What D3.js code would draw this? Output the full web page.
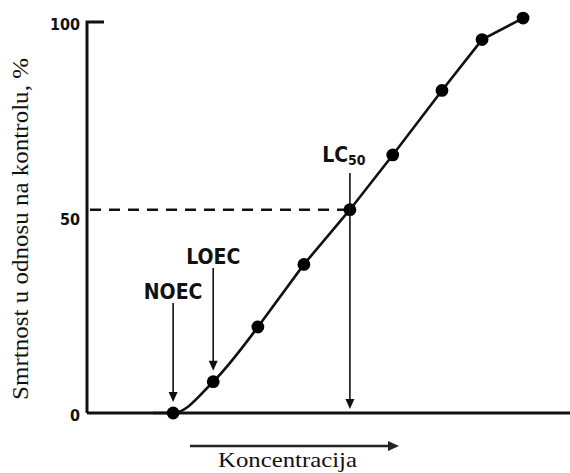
<!DOCTYPE html>
<html><head><meta charset="utf-8">
<script src="https://cdn.jsdelivr.net/npm/d3@7"></script>
<style>body{margin:0;background:#fff}</style>
</head><body><svg id="c" width="570" height="473"></svg>
<script>
const concentration = [1.89, 2.77, 3.75, 4.76, 5.77, 6.71, 7.79, 8.67, 9.57];
const mortality = [0, 8, 22, 38, 52, 66, 82.5, 95.5, 101];
const leadIn = [1.45, 0];
const yTicks = [0, 50, 100];
const yTickLabels = ["0", "50", "100"];
const annotationLabels = ["NOEC", "LOEC", "LC"];
const annotationSubs = ["", "", "50"];
const annotationIndex = [0, 1, 4];
const xTitle = "Koncentracija";
const yTitle = "Smrtnost u odnosu na kontrolu, %";

const svg = d3.select("#c");
svg.append("rect").attr("width", 570).attr("height", 473).attr("fill", "#fff");
const x = d3.scaleLinear().domain([0, 10.6]).range([87, 570]);
const y = d3.scaleLinear().domain([0, 100]).range([413, 22]);
const boldNarrow = "'Liberation Sans Narrow','Arial Narrow','DejaVu Sans Condensed',sans-serif";
const serif = "'Liberation Serif','Times New Roman',serif";

// axes
svg.append("path")
  .attr("d", `M${x(0)},${y(0)} V${y(100)} H${x(0) + 17}`)
  .attr("fill", "none").attr("stroke", "#111").attr("stroke-width", 3);
svg.append("line")
  .attr("x1", x(0)).attr("x2", x.range()[1]).attr("y1", y(0)).attr("y2", y(0))
  .attr("stroke", "#111").attr("stroke-width", 3);

// y tick labels
svg.selectAll("text.tick").data(yTicks).enter().append("text")
  .attr("class", "tick")
  .attr("x", 80).attr("y", d => y(d) + 3)
  .attr("text-anchor", "end").attr("dominant-baseline", "middle")
  .attr("font-family", boldNarrow).attr("font-weight", "bold").attr("font-size", 16)
  .attr("fill", "#111")
  .text((d, i) => yTickLabels[i]);

const pts = concentration.map((c, i) => [c, mortality[i]]);

// dashed LC50 line
const lc = pts[annotationIndex[2]];
svg.append("line")
  .attr("x1", x(0) + 3).attr("x2", x(lc[0])).attr("y1", y(lc[1])).attr("y2", y(lc[1]))
  .attr("stroke", "#111").attr("stroke-width", 2.6).attr("stroke-dasharray", "11,8");

// curve
const line = d3.line().x(d => x(d[0])).y(d => y(d[1]));
svg.append("path")
  .attr("d", line.curve(d3.curveMonotoneX)([leadIn, pts[0], pts[1], pts[2]]))
  .attr("fill", "none").attr("stroke", "#111").attr("stroke-width", 2.6);
svg.append("path")
  .attr("d", d3.line().x(d => x(d[0])).y(d => y(d[1]))(pts.slice(2)))
  .attr("fill", "none").attr("stroke", "#111").attr("stroke-width", 2.6);

// dots
svg.selectAll("circle").data(pts).enter().append("circle")
  .attr("cx", d => x(d[0])).attr("cy", d => y(d[1])).attr("r", 6.4).attr("fill", "#000");

// arrows
function arrow(px, y1, y2) {
  svg.append("line").attr("x1", px).attr("x2", px).attr("y1", y1).attr("y2", y2 - 8)
    .attr("stroke", "#111").attr("stroke-width", 1.6);
  svg.append("path").attr("d", `M${px - 4.5},${y2 - 10} L${px + 4.5},${y2 - 10} L${px},${y2} Z`)
    .attr("fill", "#111");
}
const labelTop = [283, 248, 146];
annotationIndex.forEach((idx, i) => {
  const p = pts[idx];
  const px = x(p[0]);
  const t = svg.append("text")
    .attr("x", px + (i === 2 ? -6 : 0)).attr("y", labelTop[i] + 15.5)
    .attr("text-anchor", "middle")
    .attr("font-family", boldNarrow).attr("font-weight", "bold").attr("font-size", 21)
    .attr("fill", "#111");
  t.append("tspan").text(annotationLabels[i]);
  if (annotationSubs[i]) t.append("tspan").attr("font-size", 14).attr("dy", 3).text(annotationSubs[i]);
  if (i < 2) arrow(px, labelTop[i] + 20, y(p[1]) - 11);
  else arrow(px, labelTop[i] + 27, y(0) - 4);
});

// x direction arrow
svg.append("line").attr("x1", 190).attr("x2", 390).attr("y1", 446).attr("y2", 446)
  .attr("stroke", "#222").attr("stroke-width", 2.6);
svg.append("path").attr("d", "M388,441 L399,446 L388,451 Z").attr("fill", "#222");

// titles
svg.append("text").attr("x", 287.5).attr("y", 467).attr("text-anchor", "middle")
  .attr("font-family", serif).attr("font-size", 21).attr("fill", "#111")
  .attr("textLength", 139).attr("lengthAdjust", "spacingAndGlyphs")
  .text(xTitle);
svg.append("text").attr("transform", "translate(28,229) rotate(-90)").attr("text-anchor", "middle")
  .attr("font-family", serif).attr("font-size", 23).attr("fill", "#111")
  .attr("textLength", 342).attr("lengthAdjust", "spacingAndGlyphs")
  .text(yTitle);
</script></body></html>
